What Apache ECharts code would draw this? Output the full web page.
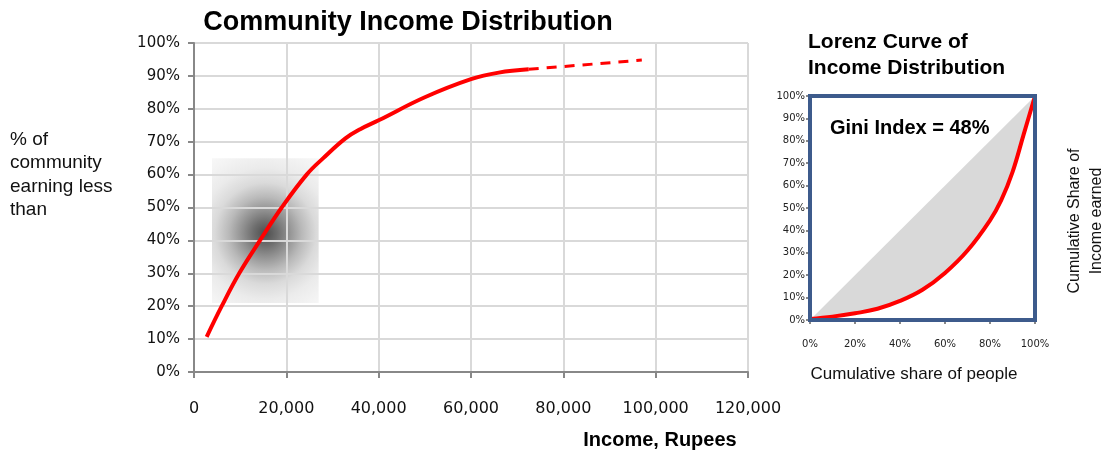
<!DOCTYPE html>
<html>
<head>
<meta charset="utf-8">
<script src="https://cdn.jsdelivr.net/npm/echarts@6/dist/echarts.min.js"></script>
<style>
html,body{margin:0;padding:0;background:#fff;}
#chart{width:1101px;height:454px;}
</style>
</head>
<body>
<div id="chart"></div>
<script>
// ---- Community income distribution (cumulative) ----
const incomeSolid = [2750, 6000, 9800, 14300, 19000, 24400, 28000, 32800, 36000, 40000, 50000, 60000, 66000, 72500];
const shareSolid  = [10.7, 20, 30, 40, 50, 60, 65, 71, 73.8, 76.5, 83.5, 89, 91, 92];
const incomeDashed = [72500, 97000];
const shareDashed  = [92, 94.8];
const incomeTicks = [0, 20000, 40000, 60000, 80000, 100000, 120000];
const shareTicks = [0, 10, 20, 30, 40, 50, 60, 70, 80, 90, 100];
// highlighted region (income range, share range)
const highlightIncome = [3900, 27000];
const highlightShare = [21, 65];

// ---- Lorenz curve ----
const lorenzPeople = [0, 10, 20, 30, 40, 50, 60, 70, 80, 85, 90, 95, 100];
const lorenzIncome = [0.5, 1.5, 3, 5, 8.5, 13.5, 21, 31, 44.5, 53.5, 66, 83, 100];
const equalityLine = [[0, 0], [100, 100]];
const giniIndex = 48;

const zip = (a, b) => a.map((v, i) => [v, b[i]]);
const FONT_SANS = '"Liberation Sans", Arial, sans-serif';
const FONT_TICK = '"DejaVu Sans", Verdana, sans-serif';

const chart = echarts.init(document.getElementById('chart'), null, {renderer: 'canvas'});

const option = {
  backgroundColor: '#ffffff',
  animation: false,
  grid: [
    {left: 194, top: 43, width: 554, height: 329, show: false},
    {left: 810, top: 96, width: 225, height: 224, show: true, z: 10,
     backgroundColor: 'transparent', borderColor: '#3D5B8C', borderWidth: 4}
  ],
  xAxis: [
    {
      type: 'value', gridIndex: 0, min: incomeTicks[0], max: incomeTicks[incomeTicks.length - 1],
      interval: incomeTicks[1] - incomeTicks[0], z: 2,
      axisLine: {show: true, lineStyle: {color: '#888888', width: 2}},
      axisTick: {show: true, length: 6, lineStyle: {color: '#888888', width: 2}},
      splitLine: {show: true, lineStyle: {color: '#d9d9d9', width: 2}},
      axisLabel: {margin: 29, color: '#111', fontSize: 16, fontFamily: FONT_TICK,
        formatter: v => v.toLocaleString('en-US')}
    },
    {
      type: 'value', gridIndex: 1, min: 0, max: 100, interval: 20,
      axisLine: {show: false},
      axisTick: {show: true, length: 4, lineStyle: {color: '#888888', width: 2}},
      splitLine: {show: false},
      axisLabel: {margin: 19, color: '#222', fontSize: 10, fontFamily: FONT_TICK, formatter: '{value}%'}
    }
  ],
  yAxis: [
    {
      type: 'value', gridIndex: 0, min: shareTicks[0], max: shareTicks[shareTicks.length - 1],
      interval: shareTicks[1] - shareTicks[0], z: 2,
      axisLine: {show: true, lineStyle: {color: '#888888', width: 2}},
      axisTick: {show: true, length: 6, lineStyle: {color: '#888888', width: 2}},
      splitLine: {show: true, lineStyle: {color: '#d9d9d9', width: 2}},
      axisLabel: {margin: 14, color: '#111', fontSize: 15, fontFamily: FONT_TICK, formatter: '{value}%'}
    },
    {
      type: 'value', gridIndex: 1, min: 0, max: 100, interval: 10,
      axisLine: {show: false},
      axisTick: {show: true, length: 4, lineStyle: {color: '#888888', width: 2}},
      splitLine: {show: false},
      axisLabel: {margin: 5, color: '#222', fontSize: 10, fontFamily: FONT_TICK, formatter: '{value}%'}
    }
  ],
  series: [
    {
      name: 'highlight', type: 'line', xAxisIndex: 0, yAxisIndex: 0, z: 0,
      data: [], silent: true,
      markArea: {
        silent: true, z: 0,
        itemStyle: {
          color: {
            type: 'radial', x: 0.5, y: 0.52, r: 0.95,
            colorStops: [
              {offset: 0, color: '#4d4d4d'},
              {offset: 0.12, color: '#6e6e6e'},
              {offset: 0.22, color: '#8e8e8e'},
              {offset: 0.36, color: '#b9b9b9'},
              {offset: 0.5, color: '#dadada'},
              {offset: 0.65, color: '#ebebeb'},
              {offset: 0.8, color: '#f3f3f3'},
              {offset: 1, color: '#fbfbfb'}
            ]
          }
        },
        data: [[
          {coord: [highlightIncome[0], highlightShare[1]]},
          {coord: [highlightIncome[1], highlightShare[0]]}
        ]]
      }
    },
    {
      name: 'cumulative', type: 'line', xAxisIndex: 0, yAxisIndex: 0, z: 5,
      data: zip(incomeSolid, shareSolid), smooth: 0.4,
      showSymbol: false, lineStyle: {color: '#ff0000', width: 4}
    },
    {
      name: 'projection', type: 'line', xAxisIndex: 0, yAxisIndex: 0, z: 5,
      data: zip(incomeDashed, shareDashed), showSymbol: false,
      lineStyle: {color: '#ff0000', width: 3, type: [10, 8]}
    },
    {
      name: 'equality', type: 'line', xAxisIndex: 1, yAxisIndex: 1, z: 2,
      data: equalityLine, showSymbol: false,
      lineStyle: {width: 0, opacity: 0},
      areaStyle: {color: '#d9d9d9', opacity: 1}
    },
    {
      name: 'lorenz', type: 'line', xAxisIndex: 1, yAxisIndex: 1, z: 3,
      data: zip(lorenzPeople, lorenzIncome), smooth: 0.4,
      showSymbol: false, lineStyle: {color: '#ff0000', width: 4},
      areaStyle: {color: '#ffffff', opacity: 1}
    }
  ],
  graphic: [
    {type: 'text', x: 408, y: 23, z: 20, style: {text: 'Community Income Distribution', align: 'center', verticalAlign: 'middle',
      font: 'bold 27px ' + FONT_SANS, fill: '#000'}},
    {type: 'text', x: 10, y: 128, z: 20, style: {text: '% of\ncommunity\nearning less\nthan', align: 'left', verticalAlign: 'top',
      font: '19px ' + FONT_SANS, lineHeight: 23.5, fill: '#111'}},
    {type: 'text', x: 660, y: 440, z: 20, style: {text: 'Income, Rupees', align: 'center', verticalAlign: 'middle',
      font: 'bold 20px ' + FONT_SANS, fill: '#000'}},
    {type: 'text', x: 808, y: 29, z: 20, style: {text: 'Lorenz Curve of\nIncome Distribution', align: 'left', verticalAlign: 'top',
      font: 'bold 21px ' + FONT_SANS, lineHeight: 26, fill: '#000'}},
    {type: 'text', x: 830, y: 128, z: 20, style: {text: 'Gini Index = ' + giniIndex + '%', align: 'left', verticalAlign: 'middle',
      font: 'bold 20px ' + FONT_SANS, fill: '#000'}},
    {type: 'text', x: 914, y: 374, z: 20, style: {text: 'Cumulative share of people', align: 'center', verticalAlign: 'middle',
      font: '17px ' + FONT_SANS, fill: '#111'}},
    {type: 'text', x: 1086, y: 221, z: 20, rotation: Math.PI / 2, style: {text: 'Cumulative Share of\nIncome earned', align: 'center', verticalAlign: 'middle',
      font: '16px ' + FONT_SANS, lineHeight: 22, fill: '#111'}}
  ]
};
chart.setOption(option);
</script>
</body>
</html>
